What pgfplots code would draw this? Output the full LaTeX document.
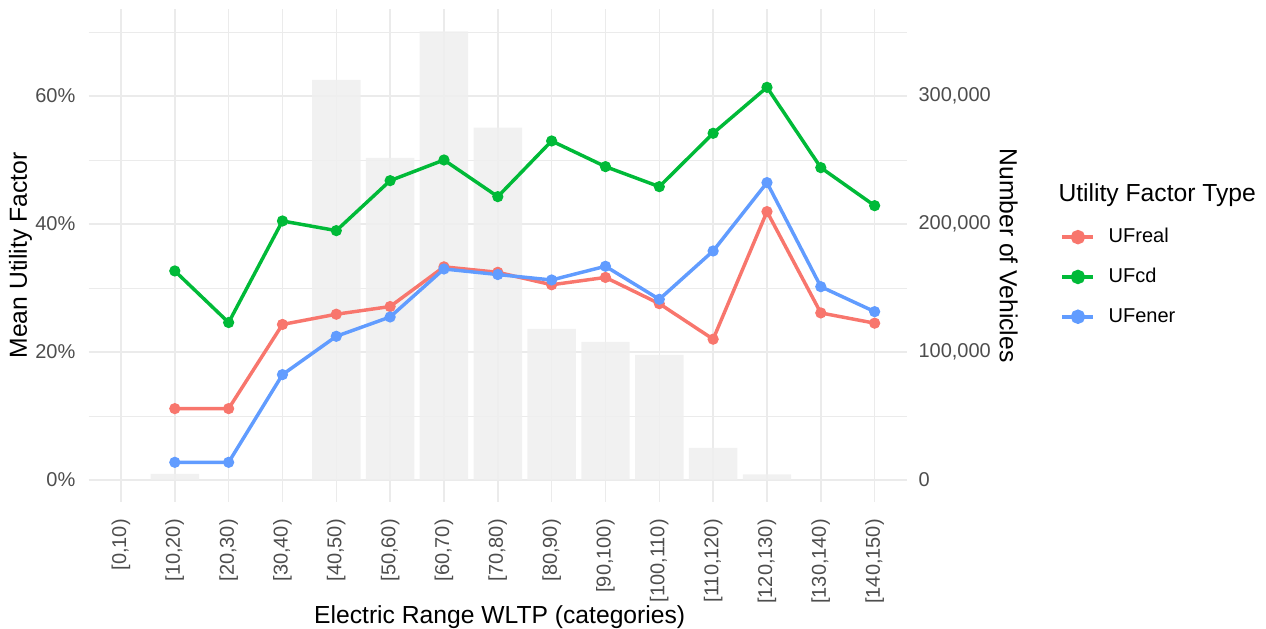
\documentclass[border=0pt]{standalone}
\usepackage{pgfplots}
\pgfplotsset{compat=1.18}
\usepackage{fontspec}
\setmainfont{Liberation Sans}
\definecolor{ufreal}{HTML}{F8766D}
\definecolor{ufcd}{HTML}{00BA38}
\definecolor{ufener}{HTML}{619CFF}
\definecolor{gridc}{HTML}{EBEBEB}
\definecolor{barc}{HTML}{EFEFEF}
\definecolor{tickc}{HTML}{4D4D4D}
\newcommand{\tickfont}{\fontsize{15}{18}\selectfont}
\newcommand{\titlefont}{\fontsize{18.5}{22}\selectfont}

\pgfplotstableread{
x count
2 4700
5 312500
6 251600
7 350500
8 275200
9 118000
10 107800
11 97700
12 25000
13 4450
}\bars

\pgfplotstableread{
x real cd ener
2 11.15 32.66 2.76
3 11.15 24.60 2.76
4 24.30 40.47 16.46
5 25.90 38.96 22.45
6 27.10 46.77 25.47
7 33.30 50.00 32.97
8 32.45 44.27 32.10
9 30.50 52.97 31.25
10 31.65 48.96 33.39
11 27.55 45.83 28.23
12 22.00 54.17 35.78
13 41.93 61.35 46.46
14 26.10 48.80 30.20
15 24.50 42.86 26.30
}\uf

\begin{document}
\begin{tikzpicture}
\path[use as bounding box] (0,0) rectangle (949.5pt,471pt);
\pgfplotsset{
  common/.style={
    scale only axis, width=613.7pt, height=369.75pt,
    at={(66.5pt,94.5pt)}, anchor=south west,
    xmin=0.4, xmax=15.6,
    axis line style={draw=none},
    major tick length=0pt, minor tick length=0pt,
    xtick={1,...,15},
  }
}
% bars: number of vehicles (right axis)
\begin{axis}[common,
  ymin=-17200, ymax=367950,
  yticklabel pos=right,
  ytick={0,100000,200000,300000},
  yticklabels={0,{100,000},{200,000},{300,000}},
  minor ytick={50000,150000,250000,350000},
  grid=both,
  major grid style={gridc, line width=1.2pt},
  minor grid style={gridc, line width=0.7pt},
  xticklabels={{[0,10)},{[10,20)},{[20,30)},{[30,40)},{[40,50)},{[50,60)},{[60,70)},{[70,80)},{[80,90)},{[90,100)},{[100,110)},{[110,120)},{[120,130)},{[130,140)},{[140,150)}},
  xticklabel style={yshift=-12.75pt, rotate=90, anchor=east, inner sep=0pt, font=\tickfont, text=tickc},
  yticklabel style={anchor=west, xshift=8.5pt, inner sep=0pt, font=\tickfont, text=tickc},
  xlabel={Electric Range WLTP (categories)},
  xlabel style={at={(axis description cs:0.5023,-0.246)}, anchor=base, font=\titlefont, inner sep=0pt},
  ylabel={Number of Vehicles},
  every axis y label/.style={at={(axis description cs:1.1137,0.5)}, rotate=-90, anchor=base, font=\titlefont, inner sep=0pt},
]
\addplot[ybar, bar width=0.9, bar shift=0pt, fill=barc, draw=none, fill opacity=0.85] table[x=x, y=count] {\bars};
\end{axis}
% lines: mean utility factor (left axis)
\begin{axis}[common,
  clip=false,
  ymin=-3.44, ymax=73.59,
  ytick={0,20,40,60},
  yticklabels={0\%,20\%,40\%,60\%},
  xticklabels={},
  yticklabel style={anchor=east, xshift=-9.75pt, inner sep=0pt, font=\tickfont, text=tickc},
  ylabel={Mean Utility Factor},
  every axis y label/.style={at={(axis description cs:-0.0754,0.5)}, rotate=90, anchor=base, font=\titlefont, inner sep=0pt},
  legend cell align=left,
  legend image code/.code={
    \draw[#1, line width=2.8pt] (0pt,0pt) -- (23.25pt,0pt);
    \fill[#1] (11.6pt,0pt) circle (4.1pt);
  },
  legend style={at={(axis description cs:1.1878,0.4565)}, anchor=west,
    draw=none, fill=none, inner sep=0pt, outer sep=0pt, row sep=15.85pt,
    font=\tickfont,
    nodes={inner sep=0pt, text height=11pt, text depth=3pt},
    /tikz/every odd column/.append style={column sep=10pt}},
]
\addplot[ufreal, line width=2.6pt, mark=*, mark size=3.7pt, mark options={line width=1pt}] table[x=x, y=real] {\uf};
\addlegendentry{UFreal}
\addplot[ufcd, line width=2.6pt, mark=*, mark size=3.7pt, mark options={line width=1pt}] table[x=x, y=cd] {\uf};
\addlegendentry{UFcd}
\addplot[ufener, line width=2.6pt, mark=*, mark size=3.7pt, mark options={line width=1pt}] table[x=x, y=ener] {\uf};
\addlegendentry{UFener}
\node[anchor=base west, font=\titlefont, inner sep=0pt] at (axis description cs:1.1849,0.609) {Utility Factor Type};
\end{axis}
\end{tikzpicture}
\end{document}
